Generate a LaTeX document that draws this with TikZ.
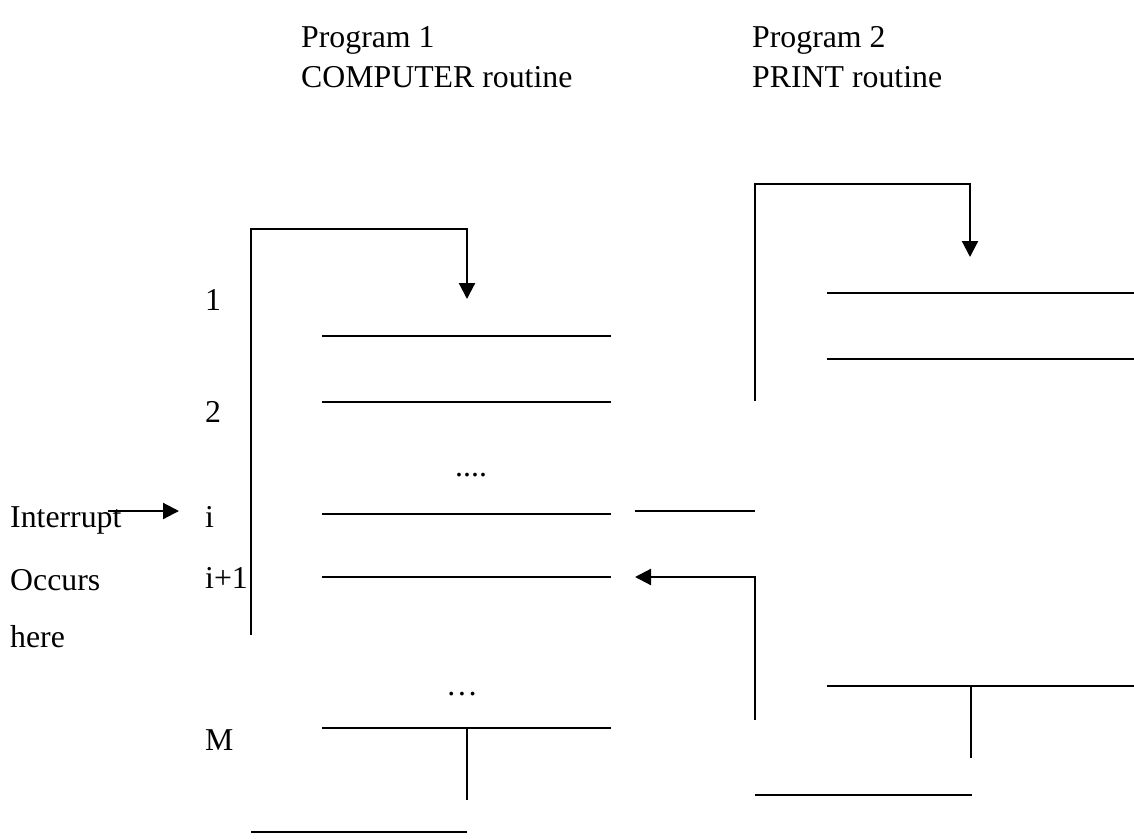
\documentclass[tikz,border=0pt]{standalone}
\usepackage{fontspec}
\setmainfont{Liberation Serif}
\usetikzlibrary{arrows.meta}
\begin{document}
\begin{tikzpicture}[x=1pt,y=-1pt,
  ln/.style={line width=2.2pt},
  arr/.style={line width=2.2pt,-{Triangle[length=16pt,width=16pt]}},
  lbl/.style={anchor=base west,inner sep=0pt,font=\fontsize{31.8}{38}\selectfont}]
\useasboundingbox (0,0) rectangle (1134,838);
% titles
\node[lbl] (p1) at (301,47) {Program 1};
\node[lbl] (p1b) at (301,87) {COMPUTER routine};
\node[lbl] (p2) at (752,47) {Program 2};
\node[lbl] (p2b) at (752,87) {PRINT routine};
% left labels
\node[lbl] (l1) at (205,310) {1};
\node[lbl] (l2) at (205,422) {2};
\node[lbl] (li) at (205,527) {i};
\node[lbl] (li1) at (205,588) {i+1};
\node[lbl] (lM) at (205,750) {M};
\node[lbl] (dots1) at (455,476) {....};
\node[lbl] (dots2) at (446,695) {\char"2026};
\node[lbl] (int) at (10,527) {Interrupt};
\node[lbl] (occ) at (10,590) {Occurs};
\node[lbl] (here) at (10,647) {here};
% interrupt arrow
\coordinate (ia) at (108,511);
\coordinate (ib) at (179,511);
\draw[arr] (ia) -- (ib);
% program 1 loop
\coordinate (L0) at (251,635);
\coordinate (L1) at (251,229);
\coordinate (L2) at (467,229);
\coordinate (L3) at (467,299);
\draw[arr] (L0) -- (L1) -- (L2) -- (L3);
% program 1 lines
\foreach \y in {336,402,514,577,728} \draw[ln] (322,\y) -- (611,\y);
\draw[ln] (467,728) -- (467,800);
\draw[ln] (251,832) -- (467,832);
% middle
\draw[ln] (635,511) -- (755,511);
\coordinate (R0) at (755,720);
\coordinate (R1) at (755,577);
\coordinate (R2) at (635,577);
\draw[arr] (R0) -- (R1) -- (R2);
% program 2 loop
\coordinate (P0) at (755,401);
\coordinate (P1) at (755,184);
\coordinate (P2) at (970,184);
\coordinate (P3) at (970,257);
\draw[arr] (P0) -- (P1) -- (P2) -- (P3);
\foreach \y in {293,359} \draw[ln] (827,\y) -- (1134,\y);
\draw[ln] (827,686) -- (1134,686);
\draw[ln] (971,686) -- (971,758);
\draw[ln] (755,795) -- (972,795);
\end{tikzpicture}
\end{document}
